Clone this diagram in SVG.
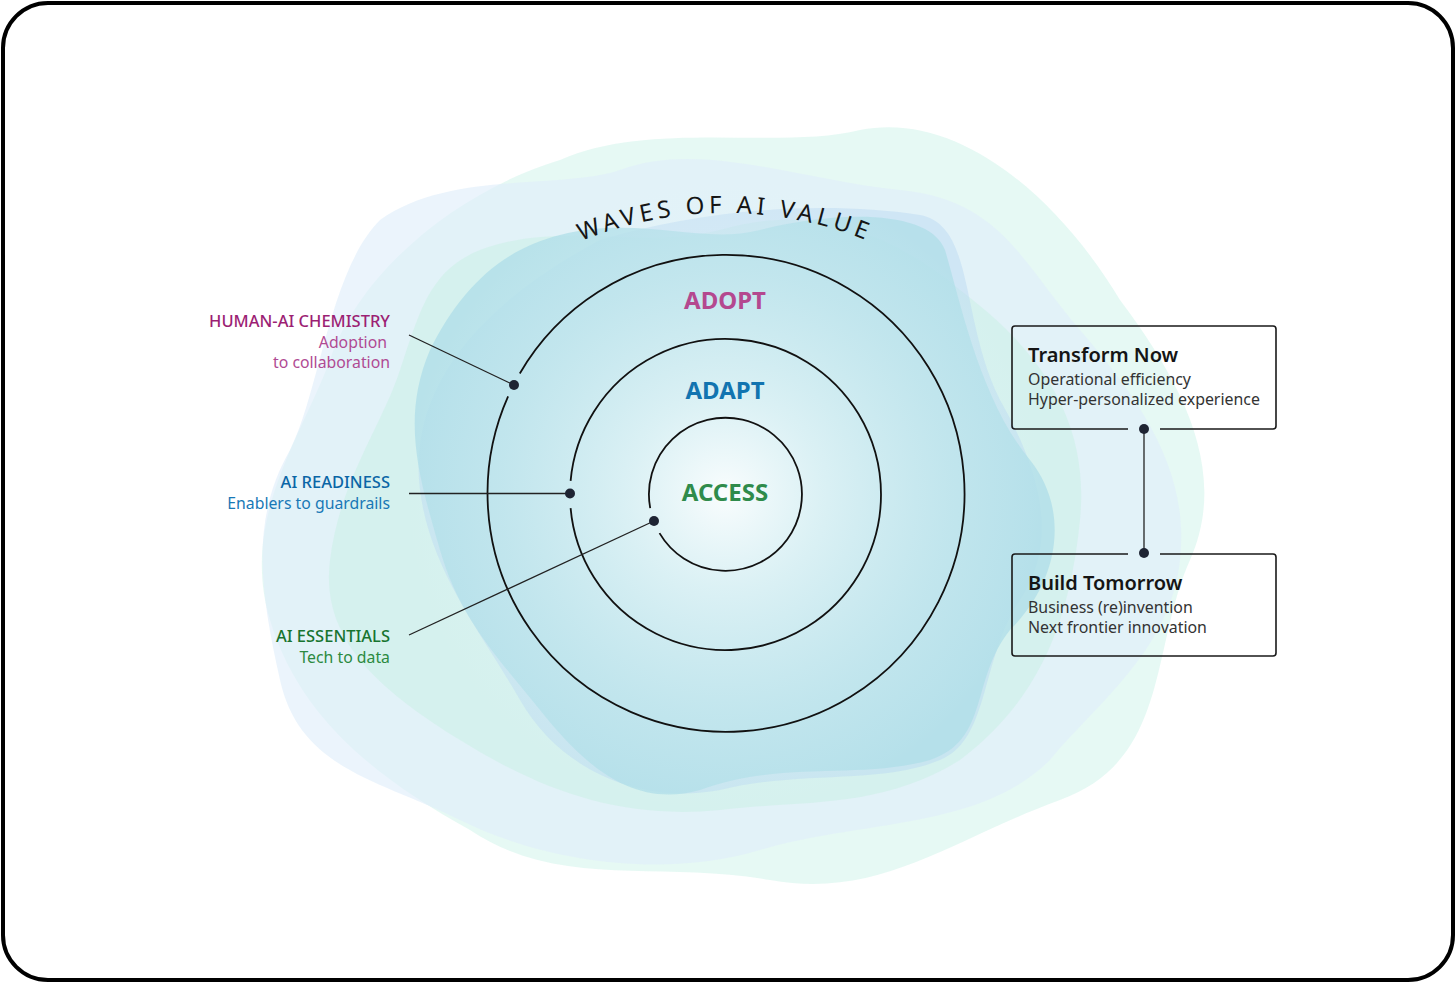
<svg xmlns="http://www.w3.org/2000/svg" width="1456" height="983" viewBox="0 0 1456 983">
<defs>
<style>
.lbl{font-family:"Noto Sans","Open Sans",sans-serif;font-size:15.8px;text-anchor:end}
.hd{font-weight:500;font-size:16.5px}
.ring{fill:none;stroke:#111;stroke-width:1.8}
.lead{stroke:#222;stroke-width:1.3;fill:none}
.dot{fill:#1e2433}
.stage{font-family:"Noto Sans","Open Sans",sans-serif;font-size:24px;font-weight:700;text-anchor:middle}
.bt{font-family:"Noto Sans","Open Sans",sans-serif;font-size:20px;font-weight:600;fill:#151515}
.bs{font-family:"Noto Sans","Open Sans",sans-serif;font-size:15.9px;fill:#333}
.box{fill:none;stroke:#1a1a1a;stroke-width:1.6}
</style>
<radialGradient id="glow" cx="725" cy="494" r="320" gradientUnits="userSpaceOnUse">
<stop offset="0" stop-color="#ffffff" stop-opacity="0.92"/>
<stop offset="0.3" stop-color="#f2fbfb" stop-opacity="0.62"/>
<stop offset="0.7" stop-color="#e6f6f7" stop-opacity="0.25"/>
<stop offset="1" stop-color="#e6f6f7" stop-opacity="0"/>
</radialGradient>
<path id="arcTitle" d="M 345 593 A 380 380 0 0 1 1105 593" fill="none"/>
</defs>
<rect x="0" y="0" width="1456" height="983" fill="#ffffff"/>
<rect x="3" y="3" width="1450" height="977" rx="45" fill="#ffffff" stroke="#000" stroke-width="4"/>

<g id="background-waves">
<path fill="#dcf6ef" opacity="0.7" d="M 560 160 C 650 120, 780 150, 860 130 C 960 110, 1060 200, 1120 300 C 1180 380, 1230 470, 1190 560 C 1150 650, 1170 760, 1060 800 C 950 840, 880 900, 770 880 C 660 860, 560 890, 470 830 C 380 780, 300 720, 270 620 C 240 520, 300 440, 330 360 C 360 270, 460 190, 560 160 Z"/>
<path fill="#e0eefa" opacity="0.65" d="M 380 220 C 450 170, 560 190, 620 170 C 700 140, 800 180, 900 190 C 1000 200, 1020 260, 1080 330 C 1140 400, 1190 470, 1180 560 C 1170 650, 1100 700, 1050 760 C 980 830, 860 820, 760 850 C 660 880, 540 860, 460 820 C 380 780, 300 770, 280 680 C 260 590, 250 520, 290 450 C 320 390, 330 270, 380 220 Z"/>
<path fill="#cdf0e7" opacity="0.6" d="M 480 250 C 560 220, 640 250, 720 230 C 820 200, 900 240, 960 290 C 1040 350, 1090 420, 1080 520 C 1070 620, 1040 700, 960 760 C 880 810, 800 800, 720 810 C 620 820, 540 790, 460 740 C 380 690, 320 640, 330 560 C 340 480, 380 430, 400 370 C 420 310, 430 270, 480 250 Z"/>
<path fill="#b8d6f2" opacity="0.45" d="M 600 240 C 700 210, 820 200, 920 215 C 975 225, 960 320, 1000 400 C 1040 470, 1060 540, 1020 600 C 980 660, 990 740, 940 760 C 880 785, 800 770, 720 790 C 640 805, 560 770, 520 700 C 480 630, 430 570, 420 490 C 410 410, 450 320, 600 240 Z"/>
<path fill="#b0dee8" opacity="0.8" d="M 560 235 C 640 215, 700 245, 760 230 C 840 210, 930 210, 945 250 C 960 300, 980 400, 1030 460 C 1070 510, 1060 580, 1010 630 C 970 680, 990 740, 930 760 C 860 780, 780 760, 700 790 C 630 810, 580 760, 540 710 C 500 660, 460 620, 440 550 C 420 480, 400 420, 430 350 C 460 290, 500 250, 560 235 Z"/>
<circle cx="725" cy="494" r="320" fill="url(#glow)"/>
</g>

<g id="title">
<text font-family="'Noto Sans','Open Sans',sans-serif" font-size="24" letter-spacing="4.3" fill="#151515"><textPath href="#arcTitle" startOffset="50%" text-anchor="middle">WAVES OF AI VALUE</textPath></text>
</g>

<g id="rings">
<path class="ring" d="M 519.8 373.5 A 238.5 238.5 0 1 1 508.1 396.4"/>
<path class="ring" d="M 570.6 480.9 A 155.5 155.5 0 1 1 570.6 508.1"/>
<path class="ring" d="M 650.2 508.2 A 76.5 76.5 0 1 1 659.5 533.1"/>
</g>

<g id="node-adopt"><text class="stage" x="725" y="309" fill="#b4488f">ADOPT</text></g>
<g id="node-adapt"><text class="stage" x="725" y="399" fill="#1274b0">ADAPT</text></g>
<g id="node-access"><text class="stage" x="725" y="501" fill="#2f8b4b">ACCESS</text></g>

<g id="connectors">
<line class="lead" x1="409" y1="335" x2="514" y2="385"/>
<line class="lead" x1="409" y1="493.5" x2="570" y2="493.5"/>
<line class="lead" x1="409" y1="635" x2="654" y2="521"/>
<line class="lead" x1="1144" y1="429" x2="1144" y2="553" stroke-width="1.6"/>
<circle class="dot" cx="514" cy="385" r="5"/>
<circle class="dot" cx="570" cy="493.5" r="5"/>
<circle class="dot" cx="654" cy="521" r="5"/>
<circle class="dot" cx="1144" cy="429" r="5"/>
<circle class="dot" cx="1144" cy="553" r="5"/>
</g>

<g id="label-human-ai">
<text class="lbl hd" x="390" y="327" fill="#9c1f74">HUMAN-AI CHEMISTRY</text>
<text class="lbl" x="387" y="348" fill="#b04a93">Adoption</text>
<text class="lbl" x="390" y="368" fill="#b04a93">to collaboration</text>
</g>
<g id="label-ai-readiness">
<text class="lbl hd" x="390" y="488" fill="#0b66a6">AI READINESS</text>
<text class="lbl" x="390" y="509" fill="#1878b6">Enablers to guardrails</text>
</g>
<g id="label-ai-essentials">
<text class="lbl hd" x="390" y="642" fill="#18742f">AI ESSENTIALS</text>
<text class="lbl" x="390" y="663" fill="#2b8a40">Tech to data</text>
</g>

<g id="node-transform-now">
<path class="box" d="M 1128 429 H 1015 Q 1012 429 1012 426 V 329 Q 1012 326 1015 326 H 1273 Q 1276 326 1276 329 V 426 Q 1276 429 1273 429 H 1160"/>
<text class="bt" x="1028" y="362">Transform Now</text>
<text class="bs" x="1028" y="385">Operational efficiency</text>
<text class="bs" x="1028" y="405">Hyper-personalized experience</text>
</g>
<g id="node-build-tomorrow">
<path class="box" d="M 1128 554 H 1015 Q 1012 554 1012 557 V 653 Q 1012 656 1015 656 H 1273 Q 1276 656 1276 653 V 557 Q 1276 554 1273 554 H 1160"/>
<text class="bt" x="1028" y="590">Build Tomorrow</text>
<text class="bs" x="1028" y="613">Business (re)invention</text>
<text class="bs" x="1028" y="633">Next frontier innovation</text>
</g>
</svg>
